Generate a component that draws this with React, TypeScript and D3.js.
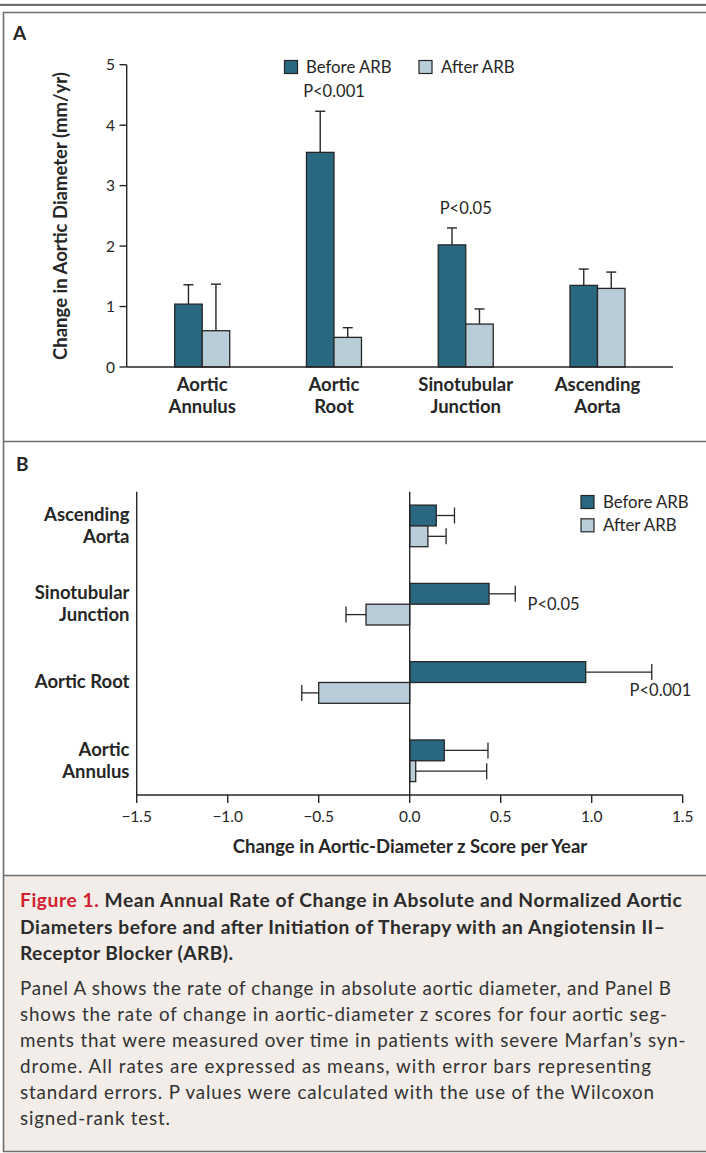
import React from "react";
import * as d3 from "d3";

// ---------- Data ----------
const segments = ["Aortic Annulus", "Aortic Root", "Sinotubular Junction", "Ascending Aorta"];
const segmentLinesA = [["Aortic", "Annulus"], ["Aortic", "Root"], ["Sinotubular", "Junction"], ["Ascending", "Aorta"]];
const segmentLinesB = [["Aortic", "Annulus"], ["Aortic Root"], ["Sinotubular", "Junction"], ["Ascending", "Aorta"]];
const seriesNames = ["Before ARB", "After ARB"];

// Panel A: absolute change (mm/yr), mean and standard error
const beforeA = [1.04, 3.55, 2.02, 1.35];
const beforeASE = [0.32, 0.68, 0.28, 0.27];
const afterA = [0.6, 0.49, 0.71, 1.3];
const afterASE = [0.77, 0.16, 0.25, 0.27];
const pLabelsA = ["", "P<0.001", "P<0.05", ""];
const yTicksA = [0, 1, 2, 3, 4, 5];

// Panel B: z score change per year, mean and standard error
const beforeB = [0.19, 0.967, 0.436, 0.146];
const beforeBSE = [0.24, 0.363, 0.144, 0.1];
const afterB = [0.033, -0.5, -0.24, 0.1];
const afterBSE = [0.39, 0.093, 0.11, 0.1];
const pLabelsB = ["", "P<0.001", "P<0.05", ""];
const xTicksB = [-1.5, -1.0, -0.5, 0.0, 0.5, 1.0, 1.5];

const captionTitle = [
  "Mean Annual Rate of Change in Absolute and Normalized Aortic",
  "Diameters before and after Initiation of Therapy with an Angiotensin II–",
  "Receptor Blocker (ARB).",
];
const captionBody = [
  "Panel A shows the rate of change in absolute aortic diameter, and Panel B",
  "shows the rate of change in aortic-diameter z scores for four aortic seg-",
  "ments that were measured over time in patients with severe Marfan’s syn-",
  "drome. All rates are expressed as means, with error bars representing",
  "standard errors. P values were calculated with the use of the Wilcoxon",
  "signed-rank test.",
];

// ---------- Style ----------
const DARK = "#2a6882";
const LIGHT = "#b9cdd8";
const STROKE = "#262626";
const TEXT = "#262626";
const FRAME = "#6e6e6e";
const FONT = "Lato, 'Open Sans', sans-serif";
const BOLD_SIZE = 18.5;

const fmtTick = (v: number) => (v < 0 ? "−" : "") + Math.abs(v).toFixed(1);

export default function App() {
  // Panel A scales
  const yA = d3.scaleLinear().domain([0, 5]).range([367, 64.7]);
  const xA = d3.scalePoint<string>().domain(segments).range([126.7, 673]).padding(0.573);
  const barW = 27.5;

  // Panel B scales
  const xB = d3.scaleLinear().domain([-1.5, 1.5]).range([136.7, 682.7]);
  const orderB = [...segments].reverse();
  const yB = d3.scalePoint<string>().domain(orderB).range([491.7, 795]).padding(0.437);
  const barH = 20.8;

  const titleWidths = [661.7, 645, 213];
  const bodyWidths = [651, 647, 665.6, 631, 634, 150];

  return (
    <svg
      width={706}
      height={1153}
      style={{ position: "absolute", left: 0, top: 0, fontFamily: FONT }}
    >
      <rect x={0} y={0} width={706} height={1153} fill="#fff" />
      {/* Frame */}
      <rect x={0} y={3.8} width={706} height={2.2} fill={FRAME} />
      <rect x={4} y={876} width={702} height={275} fill="#f2ede8" />
      <line x1={3} x2={706} y1={12.5} y2={12.5} stroke={FRAME} strokeWidth={1.6} />
      <line x1={3.5} x2={3.5} y1={12} y2={1152} stroke={FRAME} strokeWidth={1.6} />
      <line x1={3} x2={706} y1={441.5} y2={441.5} stroke={FRAME} strokeWidth={1.6} />
      <line x1={3} x2={706} y1={875.5} y2={875.5} stroke={FRAME} strokeWidth={1.6} />
      <line x1={3} x2={706} y1={1151.5} y2={1151.5} stroke={FRAME} strokeWidth={1.6} />

      {/* ---------- Panel A ---------- */}
      <text x={13} y={40} fontSize={19} fontWeight={700} fill={TEXT}>A</text>

      {/* y axis */}
      <line x1={126.7} x2={126.7} y1={yA(5)} y2={yA(0)} stroke={STROKE} strokeWidth={1.4} />
      {yTicksA.map((t) => (
        <g key={t}>
          <line x1={119.5} x2={126.7} y1={yA(t)} y2={yA(t)} stroke={STROKE} strokeWidth={1.4} />
          <text x={115} y={yA(t)} dy="0.36em" textAnchor="end" fontSize={15.5} fill={TEXT}>
            {t}
          </text>
        </g>
      ))}
      <text
        transform={`translate(66.5,216) rotate(-90)`}
        textAnchor="middle"
        fontSize={BOLD_SIZE}
        fontWeight={700}
        fill={TEXT}
      >
        Change in Aortic Diameter (mm/yr)
      </text>

      {/* bars */}
      {segments.map((s, i) => {
        const cx = xA(s) as number;
        const bars = [
          { v: beforeA[i], se: beforeASE[i], x: cx - barW, fill: DARK },
          { v: afterA[i], se: afterASE[i], x: cx, fill: LIGHT },
        ];
        return (
          <g key={s}>
            {bars.map((b, j) => {
              const mid = b.x + barW / 2;
              const top = yA(b.v + b.se);
              return (
                <g key={j}>
                  <line x1={mid} x2={mid} y1={yA(b.v)} y2={top} stroke={STROKE} strokeWidth={1.4} />
                  <line x1={mid - 5} x2={mid + 5} y1={top} y2={top} stroke={STROKE} strokeWidth={1.4} />
                  <rect
                    x={b.x}
                    y={yA(b.v)}
                    width={barW}
                    height={yA(0) - yA(b.v)}
                    fill={b.fill}
                    stroke={STROKE}
                    strokeWidth={1.3}
                  />
                </g>
              );
            })}
            {segmentLinesA[i].map((ln, k) => (
              <text
                key={k}
                x={cx}
                y={390.5 + k * 22}
                textAnchor="middle"
                fontSize={BOLD_SIZE}
                fontWeight={700}
                fill={TEXT}
              >
                {ln}
              </text>
            ))}
            {pLabelsA[i] && (
              <text
                x={cx}
                y={yA(Math.max(beforeA[i] + beforeASE[i], afterA[i] + afterASE[i])) - 14}
                textAnchor="middle"
                fontSize={16.5}
                fill={TEXT}
              >
                {pLabelsA[i]}
              </text>
            )}
          </g>
        );
      })}
      {/* x axis baseline */}
      <line x1={126.7} x2={673} y1={yA(0)} y2={yA(0)} stroke={STROKE} strokeWidth={1.4} />

      {/* legend A */}
      <rect x={284.5} y={60.5} width={13} height={13} fill={DARK} stroke={STROKE} strokeWidth={1.2} />
      <text x={306} y={73} fontSize={16.8} fill={TEXT}>{seriesNames[0]}</text>
      <rect x={419} y={60.5} width={13} height={13} fill={LIGHT} stroke={STROKE} strokeWidth={1.2} />
      <text x={441} y={73} fontSize={16.8} fill={TEXT}>{seriesNames[1]}</text>

      {/* ---------- Panel B ---------- */}
      <text x={16} y={471} fontSize={19} fontWeight={700} fill={TEXT}>B</text>

      {orderB.map((s) => {
        const i = segments.indexOf(s);
        const cy = yB(s) as number;
        const bars = [
          { v: beforeB[i], se: beforeBSE[i], y: cy - barH, fill: DARK },
          { v: afterB[i], se: afterBSE[i], y: cy, fill: LIGHT },
        ];
        const lines = segmentLinesB[i];
        const baselines = lines.length === 2 ? [cy - 5, cy + 17] : [cy + 6];
        return (
          <g key={s}>
            {bars.map((b, j) => {
              const mid = b.y + barH / 2;
              const end = b.v >= 0 ? xB(b.v + b.se) : xB(b.v - b.se);
              const x0 = Math.min(xB(0), xB(b.v));
              return (
                <g key={j}>
                  <line x1={xB(b.v)} x2={end} y1={mid} y2={mid} stroke={STROKE} strokeWidth={1.3} />
                  <line x1={end} x2={end} y1={mid - 8} y2={mid + 8} stroke={STROKE} strokeWidth={1.3} />
                  <rect
                    x={x0}
                    y={b.y}
                    width={Math.abs(xB(b.v) - xB(0))}
                    height={barH}
                    fill={b.fill}
                    stroke={STROKE}
                    strokeWidth={1.3}
                  />
                </g>
              );
            })}
            {lines.map((ln, k) => (
              <text
                key={k}
                x={129.5}
                y={baselines[k]}
                textAnchor="end"
                fontSize={BOLD_SIZE}
                fontWeight={700}
                fill={TEXT}
              >
                {ln}
              </text>
            ))}
          </g>
        );
      })}

      {/* P labels B */}
      {segments.map((s, i) => {
        if (!pLabelsB[i]) return null;
        const cy = yB(s) as number;
        const end = xB(beforeB[i] + beforeBSE[i]);
        const big = beforeB[i] + beforeBSE[i] > 1;
        return big ? (
          <text key={s} x={end + 39.5} y={cy + 13.4} textAnchor="end" fontSize={16.5} fill={TEXT}>
            {pLabelsB[i]}
          </text>
        ) : (
          <text key={s} x={end + 12.3} y={cy + 5.3} fontSize={16.5} fill={TEXT}>
            {pLabelsB[i]}
          </text>
        );
      })}

      {/* axes B */}
      <line x1={xB(-1.5)} x2={xB(-1.5)} y1={491.7} y2={795} stroke={STROKE} strokeWidth={1.4} />
      <line x1={xB(0)} x2={xB(0)} y1={491.7} y2={795} stroke={STROKE} strokeWidth={1.4} />
      <line x1={xB(-1.5)} x2={xB(1.5)} y1={795} y2={795} stroke={STROKE} strokeWidth={1.4} />
      {xTicksB.map((t) => (
        <g key={t}>
          <line x1={xB(t)} x2={xB(t)} y1={795} y2={803} stroke={STROKE} strokeWidth={1.4} />
          <text x={xB(t)} y={821.5} textAnchor="middle" fontSize={15.5} fill={TEXT}>
            {fmtTick(t)}
          </text>
        </g>
      ))}
      <text x={410} y={853} textAnchor="middle" fontSize={BOLD_SIZE} fontWeight={700} fill={TEXT}>
        Change in Aortic-Diameter z Score per Year
      </text>

      {/* legend B */}
      <rect x={581} y={495.5} width={13} height={13} fill={DARK} stroke={STROKE} strokeWidth={1.2} />
      <text x={603} y={508.3} fontSize={16.8} fill={TEXT}>{seriesNames[0]}</text>
      <rect x={581} y={518.8} width={13} height={13} fill={LIGHT} stroke={STROKE} strokeWidth={1.2} />
      <text x={603} y={531} fontSize={16.8} fill={TEXT}>{seriesNames[1]}</text>

      {/* ---------- Caption ---------- */}
      {captionTitle.map((ln, k) => (
        <text
          key={k}
          x={20}
          y={907 + k * 26.5}
          fontSize={19.2}
          fontWeight={700}
          fill="#2b2b2b"
          textLength={titleWidths[k]}
          lengthAdjust="spacing"
        >
          {k === 0 && <tspan fill="#d2202f">Figure 1. </tspan>}
          {ln}
        </text>
      ))}
      {captionBody.map((ln, k) => (
        <text
          key={k}
          x={20}
          y={995 + k * 26}
          fontSize={18.8}
          fill="#333"
          textLength={bodyWidths[k]}
          lengthAdjust="spacing"
        >
          {ln}
        </text>
      ))}
    </svg>
  );
}
